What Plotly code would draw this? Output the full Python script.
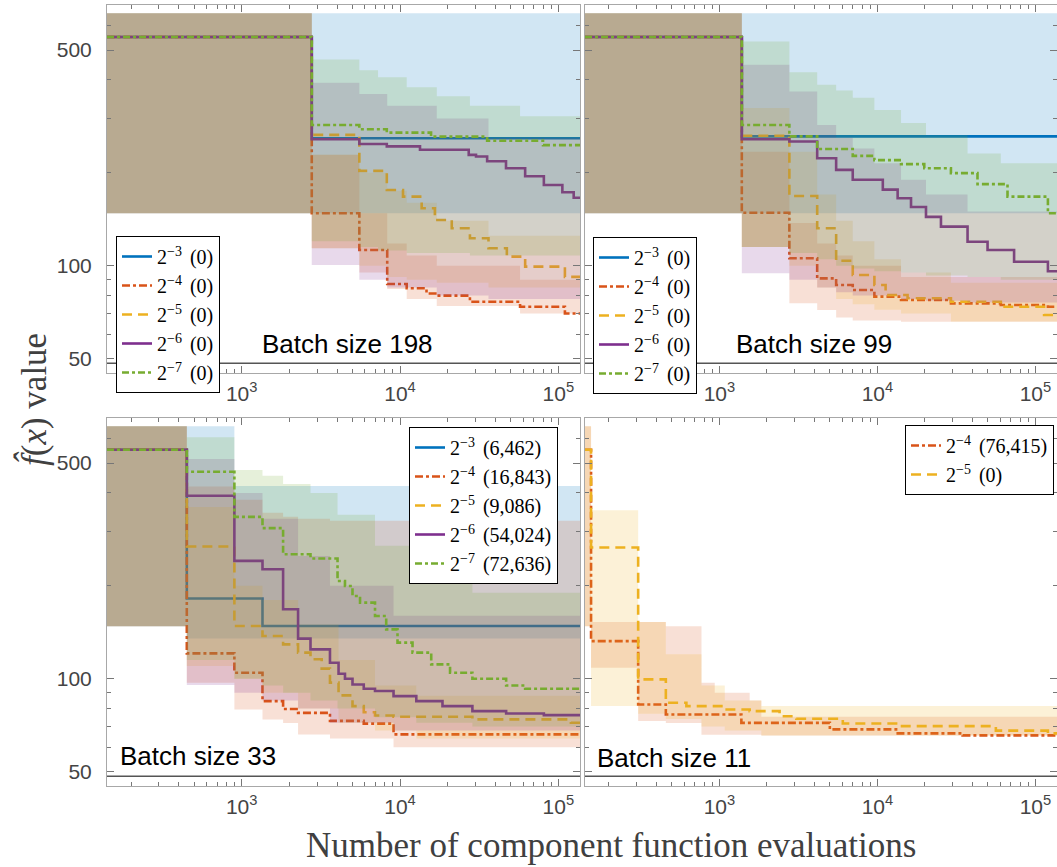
import math
import plotly.graph_objects as go

# ---------------- data ----------------
X_RANGE = [141, 137000]
Y_RANGE = [44.9, 700]
F_STAR = 48.3

X_MAJOR = [1000, 10000, 100000]
X_MAJOR_TEXT = ["10<sup>3</sup>", "10<sup>4</sup>", "10<sup>5</sup>"]
X_MINOR = [200, 300, 400, 500, 600, 700, 800, 900,
           2000, 3000, 4000, 5000, 6000, 7000, 8000, 9000,
           20000, 30000, 40000, 50000, 60000, 70000, 80000, 90000]
Y_MAJOR = [50, 100, 500]
Y_MAJOR_TEXT = ["50", "100", "500"]
Y_MINOR = [60, 70, 80, 90, 200, 300, 400, 600]

STEP_LABELS = {"m3": "2<sup>\u22123</sup>", "m4": "2<sup>\u22124</sup>", "m5": "2<sup>\u22125</sup>",
               "m6": "2<sup>\u22126</sup>", "m7": "2<sup>\u22127</sup>"}
COUNTS_198 = {"m3": "0", "m4": "0", "m5": "0", "m6": "0", "m7": "0"}
COUNTS_99 = {"m3": "0", "m4": "0", "m5": "0", "m6": "0", "m7": "0"}
COUNTS_33 = {"m3": "6,462", "m4": "16,843", "m5": "9,086", "m6": "54,024", "m7": "72,636"}
COUNTS_11 = {"m4": "76,415", "m5": "0"}
BATCH_TITLES = ["Batch size 198", "Batch size 99", "Batch size 33", "Batch size 11"]

# ---- batch size 198 ----
B198_M3_X = [141, 2770, 137000]
B198_M3_Y = [551, 259, 259]
B198_M3_BX = [141, 2770, 137000]
B198_M3_LO = [148, 148, 148]
B198_M3_HI = [658, 658, 658]

B198_M4_X = [141, 2770, 5534, 8300, 11020, 14700, 17060, 27640, 57300, 110000, 137000]
B198_M4_Y = [551, 148, 112.5, 87.2, 84.5, 81.3, 80, 76.4, 73.6, 70, 70]
B198_M4_BX = [141, 2770, 5534, 8300, 11020, 17060, 57300, 137000]
B198_M4_LO = [148, 114, 95, 84, 78, 74, 70, 67.7]
B198_M4_HI = [658, 229, 148, 118, 108, 100, 90, 85]

B198_M5_X = [141, 2770, 5534, 8250, 10440, 13700, 16600, 21220, 27640, 36200, 47280, 61700, 110000, 137000]
B198_M5_Y = [551, 265.6, 203, 176, 167.5, 153.6, 140.7, 132.2, 122.7, 113.9, 107, 99.3, 92, 92]
B198_M5_BX = [141, 2770, 5534, 8300, 11020, 17060, 36200, 137000]
B198_M5_LO = [148, 114, 100, 92, 90, 88, 85, 82]
B198_M5_HI = [658, 229, 200, 175, 160, 140, 125, 112]

B198_M6_X = [141, 2770, 5534, 8250, 13370, 27160, 30200, 35500, 46700, 61700, 81000, 106000, 125000, 137000]
B198_M6_Y = [551, 257, 248, 243.6, 237.5, 228.7, 226, 218, 207, 195, 182.7, 173, 166, 166]
B198_M6_BX = [141, 2770, 5534, 8300, 17060, 36200, 137000]
B198_M6_LO = [148, 100.5, 90, 85, 80, 78, 77.4]
B198_M6_HI = [658, 392, 360, 330, 300, 260, 210]

B198_M7_X = [141, 2770, 5534, 8250, 15700, 35500, 80000, 137000]
B198_M7_Y = [551, 286, 277, 270, 262, 254, 246, 246]
B198_M7_BX = [141, 2770, 5534, 7261, 11020, 17060, 27640, 57300, 137000]
B198_M7_LO = [148, 120, 115, 112, 110, 110, 108, 108, 108]
B198_M7_HI = [658, 466, 430, 408, 379, 354, 330, 305, 283]

# ---- batch size 99 ----
B99_M3_X = [141, 1386, 137000]
B99_M3_Y = [551, 262.5, 262.5]
B99_M3_BX = [141, 1386, 137000]
B99_M3_LO = [148, 148, 148]
B99_M3_HI = [658, 658, 658]

B99_M4_X = [141, 1386, 2772, 4158, 5480, 6980, 9570, 14110, 29200, 60400, 120000, 137000]
B99_M4_Y = [551, 148.5, 105.7, 91, 86.6, 83.4, 79.4, 77.4, 75.5, 74.6, 73.6, 73.6]
B99_M4_BX = [141, 1386, 2772, 4158, 5480, 6980, 14110, 137000]
B99_M4_LO = [148, 115, 75.5, 71.8, 68, 66.5, 65.8, 65.8]
B99_M4_HI = [658, 234, 137.6, 118, 108, 100, 92, 88]

B99_M5_X = [141, 1386, 2772, 4158, 5480, 6980, 9570, 11270, 15520, 29200, 60400, 113500, 137000]
B99_M5_Y = [551, 263.8, 168.3, 132.2, 103.8, 93.3, 86.6, 80.4, 78.4, 76.4, 73.6, 69.2, 69.2]
B99_M5_BX = [141, 1386, 2772, 4158, 5480, 6980, 9570, 14110, 29200, 137000]
B99_M5_LO = [148, 115, 100, 85, 78, 75, 72, 70, 66, 66]
B99_M5_HI = [658, 324.5, 234, 170, 140, 120, 105, 95, 88, 85]

B99_M6_X = [141, 1386, 2772, 4158, 5480, 6980, 10820, 13430, 16320, 20300, 25250, 37200, 49800, 73300, 120000, 137000]
B99_M6_Y = [551, 257, 252.6, 223, 204.5, 190, 176.5, 165.5, 155, 144, 133.9, 119.6, 112.4, 103, 96, 96]
B99_M6_BX = [141, 1386, 2772, 4158, 5480, 6980, 9570, 14110, 20300, 37200, 137000]
B99_M6_LO = [148, 94.5, 90, 85, 82, 80, 80, 78, 77, 76, 75]
B99_M6_HI = [658, 448, 367, 286, 260, 240, 215, 190, 170, 150, 130]

B99_M7_X = [141, 1386, 2772, 4158, 6980, 9570, 14110, 19800, 29200, 43000, 66600, 120000, 137000]
B99_M7_Y = [551, 286, 262.5, 239, 227, 220, 213.5, 207, 199.6, 183.8, 167.5, 148, 148]
B99_M7_BX = [141, 1386, 2772, 4158, 5480, 6980, 9570, 14110, 20300, 37200, 60400, 137000]
B99_M7_LO = [148, 115, 110, 105, 100, 98, 96, 95, 93, 92, 90, 90]
B99_M7_HI = [658, 533, 424, 386, 370, 350, 320, 290, 265, 231, 215, 202]

# ---- batch size 33 ----
B33_M3_X = [141, 450, 1353, 137000]
B33_M3_Y = [552, 181.9, 148.2, 148.2]
B33_M3_BX = [141, 450, 899, 137000]
B33_M3_LO = [148, 135, 135, 135]
B33_M3_HI = [658, 658, 421.7, 421.7]

B33_M4_X = [141, 450, 899, 1353, 1826, 2270, 3610, 5900, 9100, 137000]
B33_M4_Y = [552, 120.8, 104.6, 84.6, 79.8, 77.5, 73, 71.5, 66, 66]
B33_M4_BX = [141, 450, 899, 1353, 1826, 2270, 3610, 9100, 137000]
B33_M4_LO = [148, 97, 79.5, 73.8, 71.9, 66, 64, 60, 58.5]
B33_M4_HI = [658, 420, 380, 345, 335, 330, 325, 325, 325]

B33_M5_X = [141, 450, 899, 1353, 1826, 2270, 2720, 3200, 3610, 4090, 5010, 5900, 6950, 9100, 28650, 120000, 137000]
B33_M5_Y = [552, 268.4, 148.2, 137.5, 129.2, 121.5, 115.6, 107.8, 97.1, 88.3, 81.5, 77.9, 76, 75.3, 73.8, 72, 72]
B33_M5_BX = [141, 450, 899, 1353, 2270, 4090, 6950, 12670, 137000]
B33_M5_LO = [148, 110, 100, 90, 80, 72, 68, 64, 62]
B33_M5_HI = [658, 360, 200, 180, 150, 115, 95, 88, 86]

B33_M6_X = [141, 450, 899, 1353, 1826, 2270, 2720, 3610, 4090, 4490, 5010, 5900, 6950, 9100, 12670, 18540, 28650, 46800, 81000, 137000]
B33_M6_Y = [552, 391.8, 241, 226.4, 167.9, 134.9, 124.5, 112.7, 103.8, 100, 95.8, 92.8, 91.2, 87.8, 84.6, 81.5, 78.5, 77.1, 76.2, 76.2]
B33_M6_BX = [141, 450, 899, 1353, 2270, 3610, 9100, 137000]
B33_M6_LO = [148, 95.5, 90, 85, 80, 72, 68, 66]
B33_M6_HI = [658, 515, 400, 330, 250, 200, 160, 150]

B33_M7_X = [141, 450, 899, 1353, 1826, 2720, 4030, 4490, 5010, 5590, 6950, 8180, 9640, 11990, 15740, 20700, 28650, 46800, 61700, 137000]
B33_M7_Y = [552, 468.7, 334.7, 307.7, 253.3, 245.2, 207.4, 199.8, 185.4, 176.5, 159.7, 144.5, 130.9, 121.5, 111.3, 104.6, 100, 95.1, 92.8, 92.8]
B33_M7_BX = [141, 450, 899, 1353, 1826, 2720, 4030, 6950, 12670, 28650, 137000]
B33_M7_LO = [148, 115, 100, 95, 90, 85, 80, 75, 72, 70, 70]
B33_M7_HI = [658, 606, 475, 455, 428, 400, 340, 270, 220, 190, 178]

# ---- batch size 11 ----
B11_M4_X = [141, 154, 306, 458, 1377, 5000, 13130, 34600, 137000]
B11_M4_Y = [552, 132.4, 82.5, 76.6, 71.9, 68.5, 66.5, 65.5, 65.5]
B11_M4_BX = [141, 154, 306, 458, 770, 934, 1554, 1842, 137000]
B11_M4_LO = [148, 108.6, 73, 71.9, 65.8, 65.8, 65.8, 65.5, 65.5]
B11_M4_HI = [658, 152.7, 152.7, 148, 97, 90, 85, 75.3, 75.3]

B11_M5_X = [141, 154, 306, 458, 618, 1081, 1554, 2403, 3065, 6040, 13130, 56200, 120000, 137000]
B11_M5_Y = [552, 266.3, 99.5, 83.6, 81.5, 79.5, 78.5, 75.6, 74.2, 71.6, 70.2, 67.9, 66.5, 66.5]
B11_M5_BX = [141, 154, 306, 458, 770, 1081, 1842, 137000]
B11_M5_LO = [148, 81.5, 77, 74, 70, 68, 65.5, 65.5]
B11_M5_HI = [658, 351.9, 152.7, 120, 95, 85, 81.5, 81.5]

# ---------------- styles ----------------
COLORS = {"m3": (0, 114, 189), "m4": (217, 83, 25), "m5": (237, 177, 32),
          "m6": (126, 47, 142), "m7": (119, 172, 48)}
DASHES = {"m3": "solid", "m4": "8px,3px,3px,3px", "m5": "10px,6px",
          "m6": "solid", "m7": "7px,3px,3px,3px"}
BAND_ALPHA = 0.18

W, H = 1057, 867
XDOM = [[107 / W, 580 / W], [585 / W, 1.0]]
YDOM = [[(H - 373) / H, (H - 5) / H], [(H - 786) / H, (H - 418) / H]]

fig = go.Figure()

PANELS = [
    (1, "legend", COUNTS_198, {
        "m3": (B198_M3_X, B198_M3_Y, B198_M3_BX, B198_M3_LO, B198_M3_HI),
        "m4": (B198_M4_X, B198_M4_Y, B198_M4_BX, B198_M4_LO, B198_M4_HI),
        "m5": (B198_M5_X, B198_M5_Y, B198_M5_BX, B198_M5_LO, B198_M5_HI),
        "m6": (B198_M6_X, B198_M6_Y, B198_M6_BX, B198_M6_LO, B198_M6_HI),
        "m7": (B198_M7_X, B198_M7_Y, B198_M7_BX, B198_M7_LO, B198_M7_HI)}),
    (2, "legend2", COUNTS_99, {
        "m3": (B99_M3_X, B99_M3_Y, B99_M3_BX, B99_M3_LO, B99_M3_HI),
        "m4": (B99_M4_X, B99_M4_Y, B99_M4_BX, B99_M4_LO, B99_M4_HI),
        "m5": (B99_M5_X, B99_M5_Y, B99_M5_BX, B99_M5_LO, B99_M5_HI),
        "m6": (B99_M6_X, B99_M6_Y, B99_M6_BX, B99_M6_LO, B99_M6_HI),
        "m7": (B99_M7_X, B99_M7_Y, B99_M7_BX, B99_M7_LO, B99_M7_HI)}),
    (3, "legend3", COUNTS_33, {
        "m3": (B33_M3_X, B33_M3_Y, B33_M3_BX, B33_M3_LO, B33_M3_HI),
        "m4": (B33_M4_X, B33_M4_Y, B33_M4_BX, B33_M4_LO, B33_M4_HI),
        "m5": (B33_M5_X, B33_M5_Y, B33_M5_BX, B33_M5_LO, B33_M5_HI),
        "m6": (B33_M6_X, B33_M6_Y, B33_M6_BX, B33_M6_LO, B33_M6_HI),
        "m7": (B33_M7_X, B33_M7_Y, B33_M7_BX, B33_M7_LO, B33_M7_HI)}),
    (4, "legend4", COUNTS_11, {
        "m4": (B11_M4_X, B11_M4_Y, B11_M4_BX, B11_M4_LO, B11_M4_HI),
        "m5": (B11_M5_X, B11_M5_Y, B11_M5_BX, B11_M5_LO, B11_M5_HI)}),
]

for idx, leg, counts, series in PANELS:
    xa = "x" if idx == 1 else f"x{idx}"
    ya = "y" if idx == 1 else f"y{idx}"
    for key in ["m3", "m4", "m5", "m6", "m7"]:
        if key not in series:
            continue
        X, Y, BX, LO, HI = series[key]
        r, g, b = COLORS[key]
        fill = f"rgba({r},{g},{b},{BAND_ALPHA})"
        fig.add_trace(go.Scatter(x=BX, y=LO, xaxis=xa, yaxis=ya, mode="lines",
                                 line=dict(width=0, shape="hv"), showlegend=False,
                                 hoverinfo="skip"))
        fig.add_trace(go.Scatter(x=BX, y=HI, xaxis=xa, yaxis=ya, mode="lines",
                                 line=dict(width=0, shape="hv"), fill="tonexty",
                                 fillcolor=fill, showlegend=False, hoverinfo="skip"))
        fig.add_trace(go.Scatter(x=X, y=Y, xaxis=xa, yaxis=ya, mode="lines",
                                 line=dict(color=f"rgb({r},{g},{b})", width=2.6,
                                           shape="hv", dash=DASHES[key]),
                                 name=f"{STEP_LABELS[key]}\u2009\u2009({counts[key]})",
                                 legend=leg))

TICKFONT = dict(family="Liberation Sans, Arial, sans-serif", size=21, color="#444444")
axis_common = dict(type="log", showgrid=False, zeroline=False, showline=True,
                   linecolor="#a8a8a8", linewidth=1, mirror="ticks", ticks="inside",
                   ticklen=7, tickwidth=1, tickcolor="#777777", tickfont=TICKFONT)

layout = dict(width=W, height=H, autosize=False,
              margin=dict(l=0, r=0, t=0, b=0),
              paper_bgcolor="white", plot_bgcolor="white", showlegend=True)

for idx in range(1, 5):
    col = (idx - 1) % 2
    row = (idx - 1) // 2
    xk = "xaxis" if idx == 1 else f"xaxis{idx}"
    yk = "yaxis" if idx == 1 else f"yaxis{idx}"
    ya_name = "y" if idx == 1 else f"y{idx}"
    xa_name = "x" if idx == 1 else f"x{idx}"
    layout[xk] = dict(axis_common, domain=XDOM[col], anchor=ya_name,
                      range=[math.log10(X_RANGE[0]), math.log10(X_RANGE[1])],
                      tickmode="array", tickvals=X_MAJOR, ticktext=X_MAJOR_TEXT,
                      ticklabelstandoff=2,
                      minor=dict(tickmode="array", tickvals=X_MINOR, ticks="inside",
                                 ticklen=4, tickcolor="#777777", showgrid=False))
    layout[yk] = dict(axis_common, domain=YDOM[row], anchor=xa_name,
                      range=[math.log10(Y_RANGE[0]), math.log10(Y_RANGE[1])],
                      tickmode="array", tickvals=Y_MAJOR, ticktext=Y_MAJOR_TEXT,
                      showticklabels=(col == 0), ticklabelstandoff=10,
                      minor=dict(tickmode="array", tickvals=Y_MINOR, ticks="inside",
                                 ticklen=4, tickcolor="#777777", showgrid=False))

LEG_FONT = dict(family="Liberation Serif, Times New Roman, serif", size=20, color="black")
leg_common = dict(bgcolor="white", bordercolor="black", borderwidth=1, font=LEG_FONT,
                  tracegroupgap=0, traceorder="normal", xanchor="left", yanchor="top")
layout["legend"] = dict(leg_common, x=116 / W, y=1 - 236 / H)
layout["legend2"] = dict(leg_common, x=593 / W, y=1 - 237 / H)
layout["legend3"] = dict(leg_common, x=409 / W, y=1 - 427 / H)
layout["legend4"] = dict(leg_common, x=1054 / W, y=1 - 425 / H, xanchor="right")

shapes = []
for idx in range(1, 5):
    xa = "x" if idx == 1 else f"x{idx}"
    ya = "y" if idx == 1 else f"y{idx}"
    shapes.append(dict(type="line", xref=f"{xa} domain", yref=ya, x0=0, x1=1,
                       y0=F_STAR, y1=F_STAR, line=dict(color="#555555", width=1.5)))
layout["shapes"] = shapes

annotations = []
BATCH_POS = [(347, 344), (814, 344), (198, 756), (674, 758)]
for (px, py), txt in zip(BATCH_POS, BATCH_TITLES):
    annotations.append(dict(text=txt, x=px / W, y=1 - py / H, xref="paper", yref="paper",
                            xanchor="center", yanchor="middle", showarrow=False,
                            font=dict(family="Liberation Sans, Arial, sans-serif",
                                      size=26, color="black")))
TITLE_FONT = dict(family="Liberation Serif, Times New Roman, serif", size=35, color="#404040")
annotations.append(dict(text="Number of component function evaluations",
                        x=611 / W, y=1 - 845 / H, xref="paper", yref="paper",
                        xanchor="center", yanchor="middle", showarrow=False, font=TITLE_FONT))
annotations.append(dict(text="<i>f\u0302</i>(<i>x</i>) value",
                        x=33 / W, y=1 - 400 / H, xref="paper", yref="paper",
                        xanchor="center", yanchor="middle", showarrow=False,
                        textangle=-90, font=TITLE_FONT))
layout["annotations"] = annotations

fig.update_layout(**layout)

fig.write_html("out.html", config={"displayModeBar": False},
               post_script="document.body.style.margin='0';document.body.style.overflow='hidden';")
